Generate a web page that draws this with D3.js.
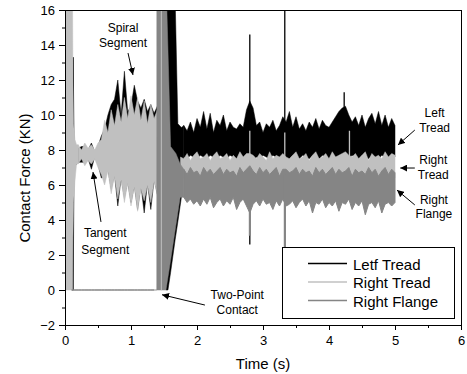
<!DOCTYPE html>
<html>
<head>
<meta charset="utf-8">
<script src="https://cdn.jsdelivr.net/npm/d3@7"></script>
<style>
  body { margin: 0; background: #fff; }
  text { font-family: "Liberation Sans", Arial, sans-serif; fill: #000; }
</style>
</head>
<body>
<div id="container"></div>
<script>
/* CONSTANTS AND GLOBALS */
const width = 467, height = 374;
const margin = {top: 10, right: 6, bottom: 49, left: 65};
const colLeft = "#000", colRight = "#c0c0c0", colFlange = "#858585";
const font = "'Liberation Sans', Arial, sans-serif";

/* DATA */
// contact force (kN) envelopes, sampled every 0.05 s from 0 to 5 s
// null = that stretch is drawn by the transient arrays below
const step = 0.05;

const leftHi = [null, null, null, null,
  8.1, 8.2, 8.2, 8.0, 8.4, 7.9, 8.2, 8.8,
  9.2, 10.0, 10.6, 10.9, 12.0, 10.0, 12.5, 10.2, 10.5, 11.7, 10.8, 10.4, 10.9, 10.2, 10.6, 10.1, 10.5,
  null, null, null, null, null, null, null,
  9.4, 9.1, 9.6, 9.0,
  9.8, 9.3, 10.2, 9.2, 10.1, 9.0, 9.7, 9.4, 10.0, 9.1, 9.6, 9.3, 9.2, 9.5, 9.3, 10.3, 10.8, 10.4, 9.4, 9.6,
  9.0, 9.5, 9.3, 9.7, 9.1, 9.4, 9.9, 9.6, 10.2, 9.3, 9.9, 9.2, 9.5, 9.1, 9.6, 9.3, 9.8, 9.2, 9.7, 9.4,
  9.3, 9.6, 9.9, 10.2, 10.4, 10.5, 10.0, 9.6, 9.9, 9.4, 10.0, 9.3, 9.8, 10.1, 9.5, 10.2, 9.4, 10.0, 9.3, 9.8,
  9.4];
const leftLo = [null, null, null, null,
  7.3, 7.3, 7.3, 7.5, 6.9, 7.6, 7.2, 6.4,
  6.5, 6.9, 5.8, 6.6, 4.8, 6.4, 5.3, 6.2, 5.0, 6.0, 4.6, 6.0, 4.4, 6.1, 4.6, 6.3, 5.5,
  null, null, null, null, null, null, null,
  7.6, 7.5, 7.7, 7.6,
  7.5, 7.7, 7.6, 7.5, 7.7, 7.6, 7.5, 7.7, 7.6, 7.5, 7.7, 7.6, 7.5, 7.7, 7.6, 7.4, 7.3, 7.4, 7.6, 7.5,
  7.7, 7.6, 7.5, 7.7, 7.6, 7.5, 7.4, 7.4, 7.5, 7.7, 7.6, 7.5, 7.7, 7.6, 7.5, 7.7, 7.6, 7.5, 7.7, 7.6,
  7.5, 7.7, 7.6, 7.5, 7.7, 7.6, 7.5, 7.7, 7.6, 7.5, 7.7, 7.6, 7.5, 7.7, 7.6, 7.5, 7.7, 7.6, 7.5, 7.7,
  7.6];

const rightHi = [null, null, null, null,
  8.3, 8.0, 8.4, 8.1, 8.3, 8.0, 8.4, 8.6,
  9.7, 9.0, 10.3, 9.4, 10.6, 9.6, 11.0, 9.8, 11.1, 10.0, 11.0, 9.7, 10.8, 9.5, 10.6, 9.8, 10.3,
  null, null, null, null, null, null,
  7.6,
  7.5, 7.8, 7.4, 7.7,
  7.9, 7.5, 7.6, 7.8, 7.4, 7.7, 7.9, 7.5, 7.6, 7.8, 7.4, 7.7, 7.5, 7.9, 7.6, 7.8, 7.8, 7.7, 7.5, 7.8,
  7.6, 7.4, 7.9, 7.5, 7.7, 7.6, 7.8, 7.6, 7.5, 7.7, 7.9, 7.5, 7.6, 7.8, 7.4, 7.7, 7.9, 7.5, 7.6, 7.8,
  7.5, 7.9, 7.6, 7.7, 7.8, 7.9, 7.7, 7.6, 7.8, 7.5, 7.7, 7.9, 7.4, 7.8, 7.6, 7.7, 7.5, 7.9, 7.6, 7.8,
  7.7];
const rightLo = [null, null, null, null,
  7.2, 7.5, 7.1, 7.4, 7.2, 7.5, 7.0, 6.6,
  6.0, 6.8, 5.5, 6.5, 5.2, 6.3, 5.0, 6.1, 4.8, 5.9, 4.5, 5.8, 5.1, 6.0, 5.0, 6.2, 5.4,
  null, null, null, null, null, null,
  6.4,
  6.4, 6.3, 6.4, 6.5,
  6.4, 6.3, 6.4, 6.5, 6.4, 6.3, 6.4, 6.5, 6.4, 6.3, 6.4, 6.5, 6.4, 6.3, 6.4, 6.3, 6.2, 6.4, 6.5, 6.4,
  6.3, 6.4, 6.5, 6.4, 6.3, 6.4, 6.5, 6.4, 6.4, 6.3, 6.4, 6.5, 6.4, 6.3, 6.4, 6.5, 6.4, 6.3, 6.4, 6.5,
  6.4, 6.3, 6.4, 6.5, 6.4, 6.3, 6.4, 6.5, 6.4, 6.3, 6.4, 6.5, 6.4, 6.3, 6.4, 6.5, 6.4, 6.3, 6.4, 6.5,
  6.4];

const flangeHi = [null, null,
  0, 0, 0, 0, 0, 0, 0, 0, 0, 0, 0, 0, 0, 0, 0, 0, 0, 0, 0, 0, 0, 0, 0, 0, 0, 0,
  null, null, null, null, null, null, null, null,
  6.9, 6.6, 7.0, 6.7,
  6.8, 6.5, 7.0, 6.7, 6.9, 6.6, 6.8, 7.0, 6.6, 6.9, 6.7, 6.8, 6.5, 7.0, 6.7, 6.9, 7.1, 6.8, 6.6, 7.0,
  6.7, 6.9, 6.6, 6.8, 7.0, 6.5, 6.9, 6.9, 6.7, 6.8, 7.0, 6.6, 6.9, 6.7, 6.8, 6.5, 7.0, 6.7, 6.9, 6.6,
  6.8, 7.0, 6.6, 6.9, 6.7, 6.8, 7.0, 6.5, 6.9, 6.7, 6.8, 6.6, 7.0, 6.7, 6.9, 6.5, 6.8, 7.0, 6.6, 6.9,
  6.7];
const flangeLo = [null, null,
  0, 0, 0, 0, 0, 0, 0, 0, 0, 0, 0, 0, 0, 0, 0, 0, 0, 0, 0, 0, 0, 0, 0, 0, 0, 0,
  null, null, null, null, null, null, null, null,
  5.3, 5.0, 5.2, 4.9,
  5.1, 4.8, 5.2, 4.9, 5.3, 4.7, 5.0, 5.2, 4.8, 5.1, 4.9, 5.3, 4.6, 5.0, 5.2, 4.8, 4.4, 4.9, 5.1, 4.8,
  5.2, 4.9, 5.0, 4.6, 5.1, 4.8, 5.2, 4.8, 4.9, 5.1, 4.7, 5.0, 5.2, 4.8, 5.1, 4.4, 5.0, 4.9, 5.2, 4.7,
  5.0, 4.8, 5.1, 4.5, 5.0, 4.9, 5.2, 4.6, 5.0, 4.8, 5.1, 4.3, 4.9, 5.0, 4.7, 5.1, 4.4, 4.9, 5.0, 4.8,
  5.0];

// isolated narrow spikes (time s, top and bottom kN)
const leftSpikeT  = [2.80, 3.33, 4.23];
const leftSpikeHi = [14.6, 16.5, 11.3];
const leftSpikeLo = [2.6, 0.8, 9.0];
const rightSpikeT  = [2.80, 3.33, 4.31];
const rightSpikeHi = [9.1, 9.0, 9.1];
const rightSpikeLo = [6.6, 6.6, 7.0];
const flangeSpikeT  = [2.80, 3.33];
const flangeSpikeHi = [6.8, 6.6];
const flangeSpikeLo = [3.1, 1.4];

// transients: start of run and two-point contact
const leftStartT  = [0.11, 0.125, 0.135, 0.15, 0.175, 0.2];
const leftStartHi = [4.5, 13.3, 8.6, 8.3, 8.2, 8.1];
const leftStartLo = [0, 0, 6.8, 7.1, 7.2, 7.3];

const rightStartT  = [0, 0.115, 0.12, 0.13, 0.15, 0.175, 0.2];
const rightStartHi = [16.5, 16.5, 12, 9.5, 8.6, 8.3, 8.3];
const rightStartLo = [0, 0, 3.0, 5.0, 6.2, 7.2, 7.2];

const leftContactT  = [1.40, 1.42, 1.53, 1.56, 1.60, 1.67, 1.71, 1.76, 1.77, 1.80];
const leftContactHi = [10.5, 10.0, 16.5, 16.5, 16.5, 16.5, 9.5, 9.3, 9.3, 9.4];
const leftContactLo = [5.5, 5.5, 0, 0, 1.0, 2.9, 3.9, 5.2, 5.5, 7.6];

const flangeContactT  = [1.35, 1.39, 1.391, 1.53, 1.54, 1.60, 1.68, 1.745, 1.80];
const flangeContactHi = [0, 0, 16.5, 16.5, 16.5, 8.2, 7.8, 7.2, 6.9];
const flangeContactLo = [0, 0, 0, 0, 0.25, 1.7, 3.7, 5.3, 5.3];

const rightContactT  = [1.457, 1.463];
const rightContactHi = [16.5, 16.5];
const rightContactLo = [0, 0];

const xTicks = [0, 1, 2, 3, 4, 5, 6];
const xMinor = [0.5, 1.5, 2.5, 3.5, 4.5, 5.5];
const yTicks = [-2, 0, 2, 4, 6, 8, 10, 12, 14, 16];
const yMinor = [-1, 1, 3, 5, 7, 9, 11, 13, 15];

const legendNames = ["Letf Tread", "Right Tread", "Right Flange"];
const legendColors = [colLeft, colRight, colFlange];

/* SVG */
const svg = d3.select("#container").append("svg")
  .attr("width", width)
  .attr("height", height);

/* SCALES */
const xScale = d3.scaleLinear().domain([0, 6]).range([margin.left, width - margin.right]);
const yScale = d3.scaleLinear().domain([-2, 16]).range([height - margin.bottom, margin.top]);

svg.append("clipPath").attr("id", "plot")
  .append("rect")
  .attr("x", xScale(0)).attr("y", yScale(16))
  .attr("width", xScale(6) - xScale(0)).attr("height", yScale(-2) - yScale(16));

const grid = d3.range(leftHi.length).map(i => +(i * step).toFixed(2));
const rows = (t, hi, lo) => t.map((tt, i) => ({t: tt, hi: hi[i], lo: lo[i]}));

const bandGen = d3.area()
  .defined(d => d.hi != null)
  .x(d => xScale(d.t))
  .y0(d => yScale(d.lo))
  .y1(d => yScale(d.hi));

const plot = svg.append("g").attr("clip-path", "url(#plot)");

function band(data, color, sw) {
  plot.append("path")
    .datum(data)
    .attr("d", bandGen)
    .attr("fill", color)
    .attr("stroke", color)
    .attr("stroke-width", sw);
}

function spikes(data, color, sw) {
  plot.selectAll(null)
    .data(data)
    .join("line")
    .attr("x1", d => xScale(d.t)).attr("x2", d => xScale(d.t))
    .attr("y1", d => yScale(d.lo)).attr("y2", d => yScale(d.hi))
    .attr("stroke", color)
    .attr("stroke-width", sw);
}

// left tread first, then right tread, then right flange on top
band(rows(grid, leftHi, leftLo), colLeft, 0.5);
band(rows(leftStartT, leftStartHi, leftStartLo), colLeft, 0.8);
band(rows(leftContactT, leftContactHi, leftContactLo), colLeft, 0.5);
spikes(rows(leftSpikeT, leftSpikeHi, leftSpikeLo), colLeft, 1.3);

band(rows(grid, rightHi, rightLo), colRight, 0.5);
band(rows(rightStartT, rightStartHi, rightStartLo), colRight, 0.5);
spikes(rows(rightSpikeT, rightSpikeHi, rightSpikeLo), colRight, 1.3);

band(rows(grid, flangeHi, flangeLo), colFlange, 1);
band(rows(flangeContactT, flangeContactHi, flangeContactLo), colFlange, 0.5);
spikes(rows(flangeSpikeT, flangeSpikeHi, flangeSpikeLo), colFlange, 2);

band(rows(rightContactT, rightContactHi, rightContactLo), colRight, 0.6);

/* AXES */
const tickFont = g => g.selectAll("text").style("font-size", "13px").style("font-family", font);

svg.append("g")
  .attr("transform", `translate(0,${yScale(-2)})`)
  .call(d3.axisBottom(xScale).tickValues(xTicks).tickSize(5).tickPadding(6)
    .tickSizeOuter(0).tickFormat(d3.format("d")))
  .call(tickFont);
svg.append("g")
  .attr("transform", `translate(0,${yScale(-2)})`)
  .call(d3.axisBottom(xScale).tickValues(xMinor).tickSize(3).tickFormat(""))
  .call(g => g.select(".domain").remove());

svg.append("g")
  .attr("transform", `translate(${xScale(0)},0)`)
  .call(d3.axisLeft(yScale).tickValues(yTicks).tickSize(6).tickPadding(4)
    .tickSizeOuter(0).tickFormat(d3.format("d")))
  .call(tickFont);
svg.append("g")
  .attr("transform", `translate(${xScale(0)},0)`)
  .call(d3.axisLeft(yScale).tickValues(yMinor).tickSize(3).tickFormat(""))
  .call(g => g.select(".domain").remove());

// frame on top and right
svg.append("rect")
  .attr("x", xScale(0) + 0.5).attr("y", yScale(16) + 0.5)
  .attr("width", xScale(6) - xScale(0)).attr("height", yScale(-2) - yScale(16))
  .attr("fill", "none").attr("stroke", "#000").attr("stroke-width", 1);

svg.append("text")
  .attr("x", 263)
  .attr("y", height - 5)
  .attr("text-anchor", "middle")
  .style("font-size", "15px")
  .text("Time (s)");

svg.append("text")
  .attr("transform", `translate(30,178) rotate(-90)`)
  .attr("text-anchor", "middle")
  .style("font-size", "15px")
  .text("Contact Force (KN)");

/* ANNOTATIONS */
svg.append("defs").append("marker")
  .attr("id", "head")
  .attr("viewBox", "0 0 10 10")
  .attr("refX", 10).attr("refY", 5)
  .attr("markerWidth", 7).attr("markerHeight", 7)
  .attr("markerUnits", "userSpaceOnUse")
  .attr("orient", "auto")
  .append("path").attr("d", "M0,0L10,5L0,10z").attr("fill", "#000");

const notes = [
  {lines: ["Spiral", "Segment"], t: 0.88, v: [14.74, 13.89], from: [0.955, 13.54], to: [1.03, 12.29]},
  {lines: ["Tangent", "Segment"], t: 0.61, v: [3.03, 2.06], from: [0.545, 3.89], to: [0.424, 6.74]},
  {lines: ["Two-Point", "Contact"], t: 2.61, v: [-0.51, -1.37], from: [2.12, -0.86], to: [1.47, -0.27]},
  {lines: ["Left", "Tread"], t: 5.6, v: [9.89, 9.03], from: [5.30, 9.14], to: [5.045, 8.29]},
  {lines: ["Right", "Tread"], t: 5.58, v: [7.2, 6.34], from: [5.30, 6.97], to: [5.08, 6.97]},
  {lines: ["Right", "Flange"], t: 5.59, v: [4.91, 4.11], from: [5.30, 4.86], to: [5.03, 5.71]}
];

notes.forEach(n => {
  n.lines.forEach((s, i) => {
    svg.append("text")
      .attr("x", xScale(n.t))
      .attr("y", yScale(n.v[i]))
      .attr("text-anchor", "middle")
      .style("font-size", "12px")
      .text(s);
  });
  svg.append("line")
    .attr("x1", xScale(n.from[0])).attr("y1", yScale(n.from[1]))
    .attr("x2", xScale(n.to[0])).attr("y2", yScale(n.to[1]))
    .attr("stroke", "#000").attr("stroke-width", 1)
    .attr("marker-end", "url(#head)");
});

/* LEGEND */
const legend = svg.append("g");
legend.append("rect")
  .attr("x", 282.5).attr("y", 247.5)
  .attr("width", 172).attr("height", 71)
  .attr("fill", "#fff").attr("stroke", "#000").attr("stroke-width", 1);

legendNames.forEach((name, i) => {
  const ly = 263.5 + i * 18.5;
  legend.append("line")
    .attr("x1", 308).attr("x2", 347)
    .attr("y1", ly).attr("y2", ly)
    .attr("stroke", legendColors[i]).attr("stroke-width", 1.3);
  legend.append("text")
    .attr("x", 353).attr("y", ly + 6)
    .style("font-size", "15px")
    .text(name);
});
</script>
</body>
</html>
